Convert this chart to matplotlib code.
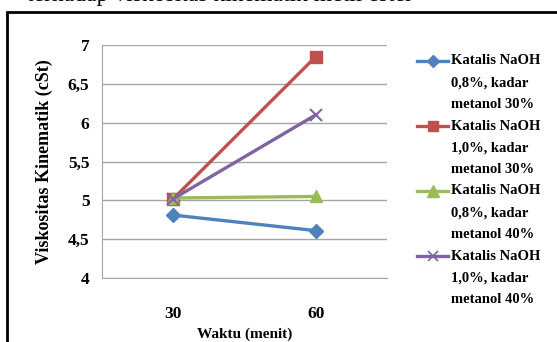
import matplotlib.pyplot as plt
from matplotlib.lines import Line2D
from matplotlib.patches import Rectangle

plt.rcParams['font.family'] = 'Liberation Serif'

waktu = ['30', '60']
labels = [['Katalis NaOH', '0,8%, kadar', 'metanol 30%'],
          ['Katalis NaOH', '1,0%, kadar', 'metanol 30%'],
          ['Katalis NaOH', '0,8%, kadar', 'metanol 40%'],
          ['Katalis NaOH', '1,0%, kadar', 'metanol 40%']]
values = [[4.81, 4.61],
          [5.02, 6.85],
          [5.03, 5.05],
          [5.02, 6.10]]
colors = ['#4F81BD', '#C0504D', '#9BBB59', '#8064A2']
markers = ['D', 's', '^', 'x']
msizes = [7, 8.5, 9, 8]
yticks = [4, 4.5, 5, 5.5, 6, 6.5, 7]

W, H = 557, 342
fig = plt.figure(figsize=(W/100, H/100), dpi=100)
ax = fig.add_axes([102/W, (H-278)/H, (387-102)/W, (278-45)/H])

x = range(len(waktu))
for i in range(4):
    ax.plot(x, values[i], color=colors[i], lw=2.4, marker=markers[i],
            ms=msizes[i], mew=1.5 if markers[i] == 'x' else 1)

ax.set_xlim(-0.5, 1.5)
ax.set_ylim(4, 7)
ax.set_yticks(yticks)
ax.set_yticklabels([str(v).replace('.0', '').replace('.', ',') for v in yticks],
                   fontsize=12.5, fontweight='bold')
ax.set_xticks(list(x))
ax.set_xticklabels(waktu, fontsize=12.5, fontweight='bold')
ax.tick_params(axis='y', length=0, pad=9)
ax.tick_params(axis='x', length=0, pad=20)
ax.grid(axis='y', color='#A6A6A6', lw=1)
for s in ['top', 'right']:
    ax.spines[s].set_visible(False)
ax.spines['left'].set_color('#A6A6A6')
ax.spines['bottom'].set_color('#A6A6A6')
ax.set_ylabel('Viskositas Kinematik (cSt)', fontsize=13, fontweight='bold', labelpad=11)
ax.set_xlabel('Waktu (menit)', fontsize=11, fontweight='bold', labelpad=4)

# legend drawn by hand so the handle sits on the first text line
for i in range(4):
    yl = 61 + i * 65
    fig.add_artist(Line2D([417/W, 448/W], [1 - yl/H, 1 - yl/H], color=colors[i], lw=2.4,
                          transform=fig.transFigure))
    fig.add_artist(Line2D([432.5/W], [1 - yl/H], color=colors[i], marker=markers[i],
                          ms=msizes[i] - 1, mew=1.2 if markers[i] == 'x' else 1,
                          transform=fig.transFigure))
    for j, t in enumerate(labels[i]):
        fig.text(451/W, 1 - (yl + j * 21.7)/H, t, fontsize=10.5, fontweight='bold',
                 va='center', ha='left')

# outer frame and the cut-off caption line above it
fig.add_artist(Rectangle((7/W, -0.1), 1.2, 1 - 12/H + 0.1, fill=False, lw=2,
                         ec='black', transform=fig.transFigure))
fig.text(413/W, 1 - 1.5/H, 'terhadap viskositas kinematik metil ester', fontsize=17,
         ha='right', va='baseline')

fig.savefig('out.png', dpi=100)
